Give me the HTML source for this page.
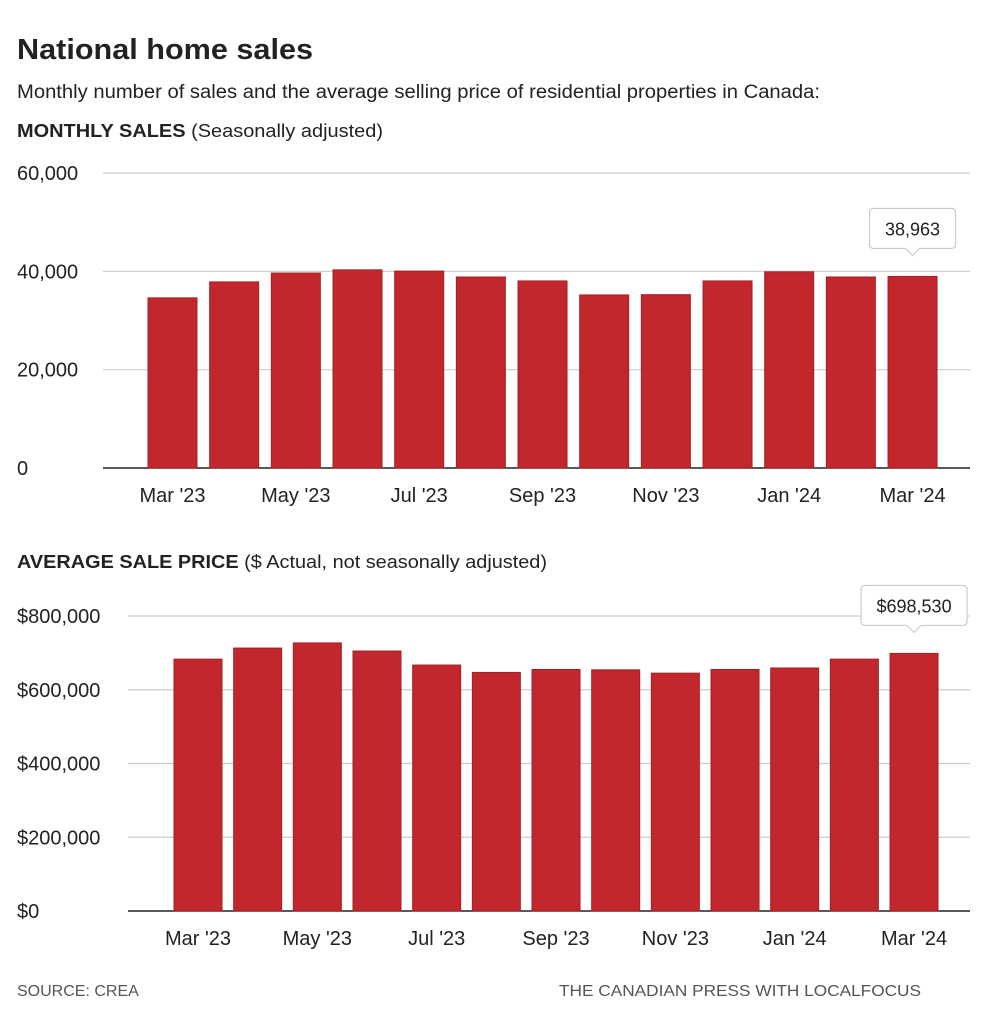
<!DOCTYPE html>
<html><head><meta charset="utf-8"><style>
body{margin:0;background:#fff;}
svg{display:block;font-family:"Liberation Sans",sans-serif;}
</style></head><body>
<svg id="s" width="1000" height="1025" viewBox="0 0 1000 1025">
<text x="17" y="59" font-size="29" font-weight="bold" fill="#222" textLength="296" lengthAdjust="spacingAndGlyphs">National home sales</text>
<text x="17" y="98" font-size="19" fill="#222" textLength="803" lengthAdjust="spacingAndGlyphs">Monthly number of sales and the average selling price of residential properties in Canada:</text>
<text x="17" y="137" font-size="18" fill="#222" textLength="366" lengthAdjust="spacingAndGlyphs"><tspan font-weight="bold">MONTHLY SALES</tspan> (Seasonally adjusted)</text>
<text x="17" y="568" font-size="18" fill="#222" textLength="530" lengthAdjust="spacingAndGlyphs"><tspan font-weight="bold">AVERAGE SALE PRICE</tspan> ($ Actual, not seasonally adjusted)</text>
<g id="c1"></g>
<g id="c2"></g>
<text x="17" y="996" font-size="16" fill="#555">SOURCE:  CREA</text>
<text x="921" y="996" font-size="16" fill="#555" text-anchor="end" textLength="362" lengthAdjust="spacingAndGlyphs">THE CANADIAN PRESS WITH LOCALFOCUS</text>
</svg>
<script>
const months = ["Mar '23","Apr '23","May '23","Jun '23","Jul '23","Aug '23","Sep '23","Oct '23","Nov '23","Dec '23","Jan '24","Feb '24","Mar '24"];
const salesValues = [34600,37850,39650,40300,40050,38850,38050,35200,35250,38050,39900,38850,38963];
const salesTicks = [0,20000,40000,60000];
const salesTickLabels = ["0","20,000","40,000","60,000"];
const priceValues = [683000,713000,727000,705000,667000,647000,655000,654000,645000,655000,659000,683000,698530];
const priceTicks = [0,200000,400000,600000,800000];
const priceTickLabels = ["$0","$200,000","$400,000","$600,000","$800,000"];
const shownLabels = [0,2,4,6,8,10,12];
const NS="http://www.w3.org/2000/svg";
function mk(tag,attrs,parent){const e=document.createElementNS(NS,tag);for(const k in attrs)e.setAttribute(k,attrs[k]);parent.appendChild(e);return e;}
function draw(g,o){
  const y=v=>o.y0-(v/o.ymax)*(o.y0-o.y1);
  const x=i=>o.xStart+i*o.pitch;
  o.ticks.forEach((t,i)=>{
    const l=mk('line',{x1:o.gx0,x2:970,y1:y(t),y2:y(t),stroke:i===0?'#222':'#ccc','stroke-width':i===0?1.5:1.2},g);
    
    
    const tx=mk('text',{x:o.lx,y:y(t)+7,'font-size':20,fill:'#222'},g);
    tx.textContent=o.tickLabels[i];
    
    
  });
  o.values.forEach((v,i)=>{
    const r=mk('rect',{x:x(i),y:y(v),width:o.bw,height:o.y0-y(v),fill:'#c1272d',stroke:'#a51f24','stroke-width':1},g);
    
    
  });
  shownLabels.forEach(i=>{
    const t=mk('text',{x:x(i)+o.bw/2,y:o.y0+34,'font-size':20,fill:'#222','text-anchor':'middle'},g);
    t.textContent=months[i];
    
    
  });
  const last=o.values.length-1, cx=x(last)+o.bw/2, ty=y(o.values[last])-28;
  const tip=mk('g',{},g);
  
  
  const w=o.tipW,h=40;
  mk('path',{d:`M${cx-w/2+4},${ty-h} h${w-8} q4,0 4,4 v${h-8} q0,4 -4,4 H${cx+7} l-7,7 l-7,-7 H${cx-w/2+4} q-4,0 -4,-4 v-${h-8} q0,-4 4,-4 z`,fill:'#fff',stroke:'#ccc','stroke-width':1.2},tip);
  const tt=mk('text',{x:cx,y:ty-h/2+7,'font-size':18,fill:'#222','text-anchor':'middle'},tip);
  tt.textContent=o.tipText;
}
draw(document.getElementById('c1'),{values:salesValues,ticks:salesTicks,tickLabels:salesTickLabels,ymax:60000,y0:468,y1:173,gx0:103,lx:17,xStart:148,pitch:61.67,bw:49,tipW:86,tipText:salesValues[12].toLocaleString('en-US')});
draw(document.getElementById('c2'),{values:priceValues,ticks:priceTicks,tickLabels:priceTickLabels,ymax:800000,y0:911,y1:616,gx0:128,lx:17,xStart:174,pitch:59.67,bw:48,tipW:106,tipText:'$'+priceValues[12].toLocaleString('en-US')});
</script>
</body></html>
